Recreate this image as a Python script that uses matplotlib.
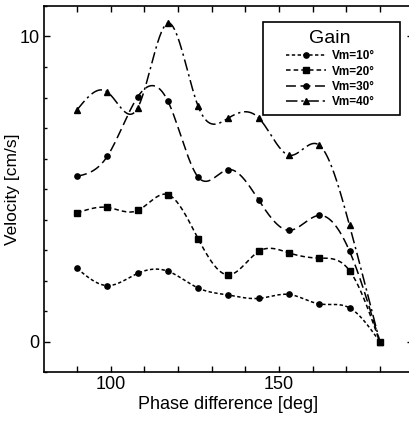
import numpy as np
import matplotlib
matplotlib.use("Agg")
import matplotlib.pyplot as plt
from matplotlib.patches import Rectangle

plt.rcParams['font.family'] = ['Liberation Sans', 'DejaVu Sans']

# phase difference [deg] and velocity [cm/s]
phase = [90, 99, 108, 117, 126, 135, 144, 153, 162, 171, 180]
vm10 = [2.40, 1.84, 2.24, 2.31, 1.76, 1.53, 1.42, 1.55, 1.24, 1.11, 0.0]
vm20 = [4.22, 4.40, 4.30, 4.82, 3.37, 2.19, 2.96, 2.91, 2.74, 2.33, 0.0]
vm30 = [5.42, 6.08, 8.02, 7.88, 5.39, 5.64, 4.64, 3.65, 4.14, 2.97, 0.0]
vm40 = [7.60, 8.18, 7.66, 10.44, 7.71, 7.33, 7.33, 6.11, 6.44, 3.81, 0.0]
labels = ['Vm=10°', 'Vm=20°', 'Vm=30°', 'Vm=40°']


def natural_spline(x, y, xs):
    # natural cubic spline through the points, for the smooth curves
    x = np.asarray(x, float)
    y = np.asarray(y, float)
    n = len(x)
    h = np.diff(x)
    A = np.zeros((n, n))
    b = np.zeros(n)
    A[0, 0] = A[-1, -1] = 1
    for i in range(1, n - 1):
        A[i, i - 1] = h[i - 1]
        A[i, i] = 2 * (h[i - 1] + h[i])
        A[i, i + 1] = h[i]
        b[i] = 3 * ((y[i + 1] - y[i]) / h[i] - (y[i] - y[i - 1]) / h[i - 1])
    c = np.linalg.solve(A, b)
    out = np.empty_like(xs)
    for k, xv in enumerate(xs):
        i = min(np.searchsorted(x, xv, side='right') - 1, n - 2)
        dx = xv - x[i]
        bi = (y[i + 1] - y[i]) / h[i] - h[i] * (2 * c[i] + c[i + 1]) / 3
        di = (c[i + 1] - c[i]) / (3 * h[i])
        out[k] = y[i] + bi * dx + c[i] * dx ** 2 + di * dx ** 3
    return out


fig = plt.figure(figsize=(4.09, 4.23), dpi=100)
ax = fig.add_axes([0.1064, 0.1199, 0.9044, 0.866])

xs = np.linspace(90, 180, 361)  # 0.25 deg steps, data points every 36
styles = [
    dict(marker='o', ms=3.8, dashes=(2.2, 1.6)),
    dict(marker='s', ms=4.3, dashes=(3.0, 2.0)),
    dict(marker='o', ms=3.8, dashes=(6.5, 3.0)),
    dict(marker='^', ms=4.0, dashes=(7.5, 2.5, 1.5, 2.5)),
]
for ys, lab, st in zip([vm10, vm20, vm30, vm40], labels, styles):
    ax.plot(xs, natural_spline(phase, ys, xs), color='black', lw=1.1,
            markevery=36, label=lab, **st)

ax.set_xlim(80, 190)
ax.set_ylim(-1, 11)
ax.set_xticks(np.arange(90, 181, 10))
ax.set_xticklabels(['' if t not in (100, 150) else str(t) for t in range(90, 181, 10)])
ax.set_yticks([0, 10])
ax.set_yticks(np.arange(-1, 12, 1), minor=True)
ax.tick_params(which='both', direction='in', top=True, right=True,
               labelsize=13, pad=3, width=1.0)
ax.tick_params(which='major', length=4.3)
ax.tick_params(which='minor', length=2.5)
for s in ax.spines.values():
    s.set_linewidth(1.2)

ax.set_xlabel('Phase difference [deg]', fontsize=13, labelpad=2)
ax.set_ylabel('Velocity [cm/s]', fontsize=12.5)
ax.yaxis.set_label_coords(-0.063, 0.5)

# legend box drawn separately, it is wider than the legend content
ax.add_patch(Rectangle((0.593, 0.7025), 0.3705, 0.2535, transform=ax.transAxes,
                       fill=False, edgecolor='black', lw=1.2, zorder=5))
leg = ax.legend(title='Gain', loc='upper center', bbox_to_anchor=(0.775, 0.957),
                handlelength=3.4, frameon=False,
                labelspacing=0.28, borderpad=0.2, handletextpad=0.5,
                prop={'weight': 'bold', 'size': 8.5}, title_fontsize=14)

fig.savefig('out.png', dpi=100)
